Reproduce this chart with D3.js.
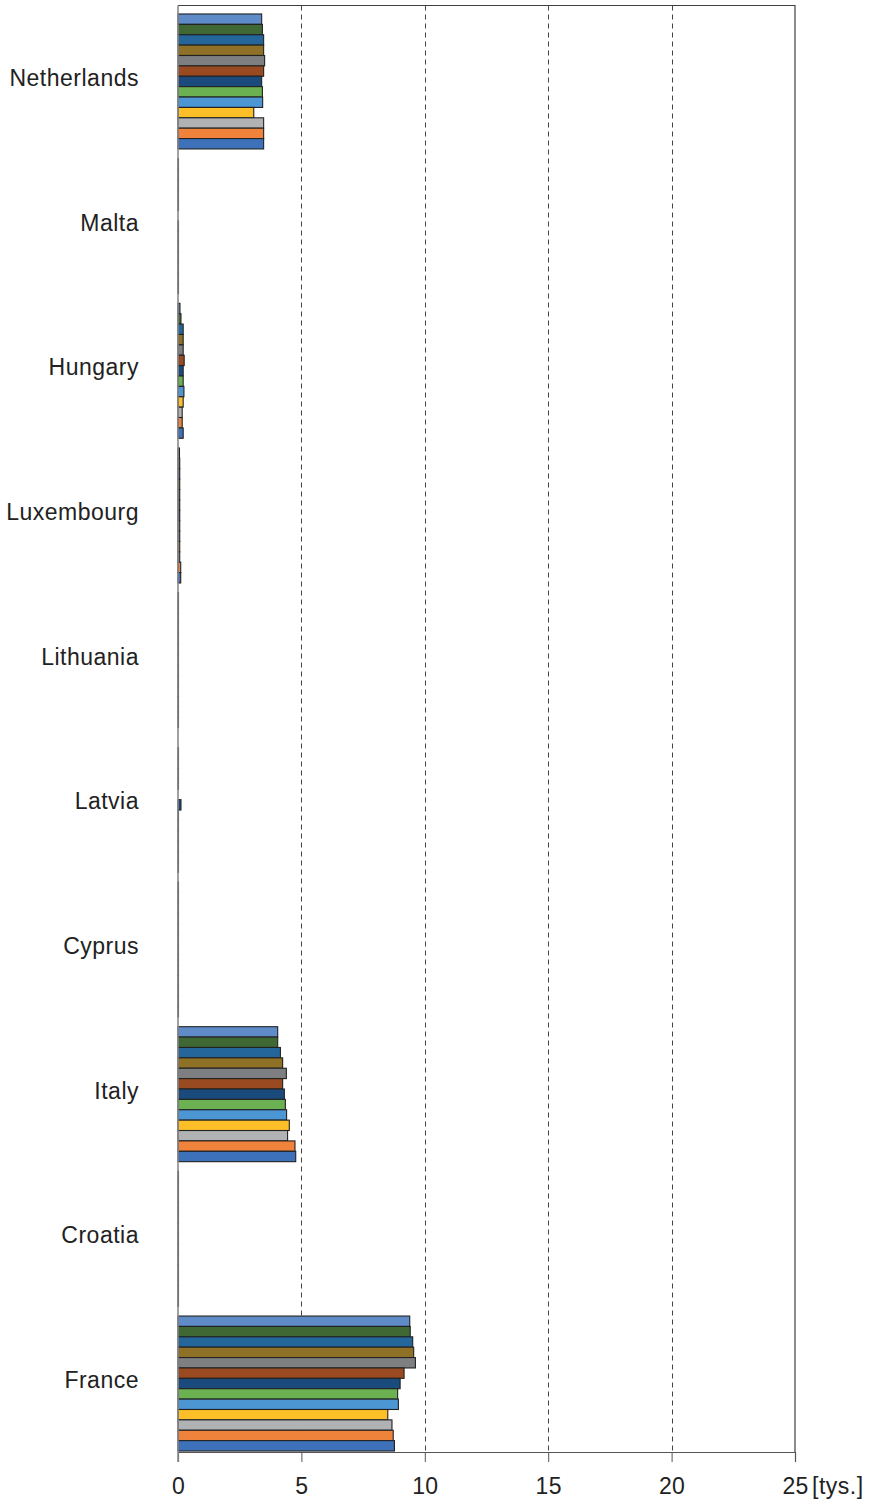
<!DOCTYPE html>
<html>
<head>
<meta charset="utf-8">
<script src="https://cdn.jsdelivr.net/npm/d3@7"></script>
<style>
  html, body { margin: 0; padding: 0; background: #fff; }
  svg { display: block; font-family: "Liberation Sans", Arial, sans-serif; }
</style>
</head>
<body>
<svg id="chart" width="875" height="1501"></svg>
<script>
// Categories, top to bottom
const categories = ["Netherlands", "Malta", "Hungary", "Luxembourg", "Lithuania", "Latvia", "Cyprus", "Italy", "Croatia", "France"];

// Series (display order top to bottom within each group)
const seriesNames = ["S13", "S12", "S11", "S10", "S9", "S8", "S7", "S6", "S5", "S4", "S3", "S2", "S1"];
const seriesColors = ["#5F8BC9", "#3F6835", "#25669A", "#8E7026", "#7E7F81", "#9A4A20", "#1B4B7C", "#6BB152", "#4C96D3", "#FDBF28", "#B1B2B4", "#F0833B", "#3D72BA"];

// Values in thousands, per country, series in display order (top to bottom)
const netherlands = [3.39, 3.42, 3.47, 3.47, 3.51, 3.47, 3.39, 3.42, 3.43, 3.07, 3.47, 3.47, 3.47];
const malta       = [0.02, 0.02, 0.02, 0.02, 0.02, 0, 0.02, 0.02, 0.02, 0.02, 0.02, 0.02, 0.02];
const hungary     = [0.08, 0.12, 0.21, 0.21, 0.21, 0.25, 0.21, 0.21, 0.24, 0.21, 0.17, 0.17, 0.21];
const luxembourg  = [0.06, 0.07, 0.07, 0.07, 0.07, 0.07, 0.07, 0.07, 0.07, 0.07, 0.07, 0.11, 0.11];
const lithuania   = [0.02, 0.02, 0.02, 0.02, 0.02, 0.02, 0.02, 0.02, 0.02, 0.02, 0.02, 0.02, 0.02];
const latvia      = [0, 0.02, 0.02, 0.02, 0.02, 0, 0.12, 0.02, 0.02, 0.02, 0.02, 0.02, 0.02];
const cyprus      = [0.02, 0.02, 0.02, 0.02, 0.02, 0.02, 0.02, 0.02, 0.02, 0.02, 0.02, 0.02, 0.02];
const italy       = [4.04, 4.04, 4.15, 4.24, 4.39, 4.24, 4.31, 4.35, 4.40, 4.51, 4.44, 4.74, 4.77];
const croatia     = [0.02, 0.02, 0.02, 0.02, 0.02, 0.02, 0.02, 0.02, 0.02, 0.02, 0.02, 0.02, 0.02];
const france      = [9.39, 9.41, 9.51, 9.55, 9.62, 9.16, 9.00, 8.90, 8.93, 8.50, 8.67, 8.72, 8.77];
const values = [netherlands, malta, hungary, luxembourg, lithuania, latvia, cyprus, italy, croatia, france];

const xTicks = [0, 5, 10, 15, 20, 25];
const unitLabel = "[tys.]";

// Layout
const plotLeft = 178, plotRight = 795, plotTop = 5.5, plotBottom = 1452;
const svg = d3.select("#chart");

const x = d3.scaleLinear().domain([0, 25]).range([plotLeft, plotRight]);
// category scale for labels (whole plot height)
const yCat = d3.scaleBand().domain(categories).range([plotTop, plotBottom]);
// category scale for bar groups
const y0 = d3.scaleBand().domain(categories).range([9.2, 1455.8]).paddingInner(0.067).paddingOuter(0.033);
const y1 = d3.scaleBand().domain(seriesNames).range([0, y0.bandwidth()]);
const color = d3.scaleOrdinal().domain(seriesNames).range(seriesColors);

// Gridlines (dashed)
svg.append("g")
  .selectAll("line")
  .data(xTicks.filter(t => t > 0 && t < 25))
  .join("line")
  .attr("x1", d => Math.round(x(d)) + 0.5)
  .attr("x2", d => Math.round(x(d)) + 0.5)
  .attr("y1", plotTop)
  .attr("y2", plotBottom)
  .attr("stroke", "#444")
  .attr("stroke-width", 1)
  .attr("stroke-dasharray", "5,4");

// Plot frame (top & right)
svg.append("path")
  .attr("d", `M${plotLeft},${plotTop}H${plotRight}V${plotBottom}`)
  .attr("fill", "none")
  .attr("stroke", "#404040")
  .attr("stroke-width", 1.2);

// Bars
const groups = svg.append("g")
  .selectAll("g")
  .data(categories.map((c, i) => ({ cat: c, vals: values[i] })))
  .join("g")
  .attr("transform", d => `translate(0,${y0(d.cat)})`);

groups.selectAll("rect")
  .data(d => d.vals.map((v, j) => ({ key: seriesNames[j], value: v })).filter(e => e.value > 0))
  .join("rect")
  .attr("x", x(0))
  .attr("y", d => y1(d.key))
  .attr("width", d => x(d.value) - x(0))
  .attr("height", y1.bandwidth())
  .attr("fill", d => color(d.key))
  .attr("stroke", "#222")
  .attr("stroke-width", 1.1);

// Bottom axis
const xAxis = d3.axisBottom(x).tickValues(xTicks).tickSize(10).tickFormat(d3.format("d"));
const gx = svg.append("g").attr("transform", `translate(0,${plotBottom})`).call(xAxis);
gx.select(".domain").attr("stroke", "#555").attr("stroke-width", 1.2);
gx.selectAll(".tick line").attr("stroke", "#555");
gx.selectAll(".tick text")
  .attr("font-size", 23)
  .attr("font-family", "'Liberation Sans', Arial, sans-serif")
  .attr("letter-spacing", "0.3px")
  .attr("fill", "#222")
  .attr("y", 0)
  .attr("dy", 0)
  .attr("transform", "translate(0,42)");

svg.append("text")
  .attr("x", x(25) + 17)
  .attr("y", plotBottom + 42)
  .attr("font-size", 23)
  .attr("letter-spacing", "0.5px")
  .attr("fill", "#222")
  .text(unitLabel);

// Left axis
svg.append("line")
  .attr("x1", plotLeft).attr("x2", plotLeft)
  .attr("y1", plotTop).attr("y2", plotBottom + 10)
  .attr("stroke", "#8a8a8a")
  .attr("stroke-width", 1.6);

// Category labels
svg.append("g")
  .selectAll("text")
  .data(categories)
  .join("text")
  .attr("x", 139)
  .attr("y", d => yCat(d) + yCat.bandwidth() / 2)
  .attr("dy", "0.36em")
  .attr("text-anchor", "end")
  .attr("font-size", 23)
  .attr("letter-spacing", "0.5px")
  .attr("fill", "#222")
  .text(d => d);
</script>
</body>
</html>
